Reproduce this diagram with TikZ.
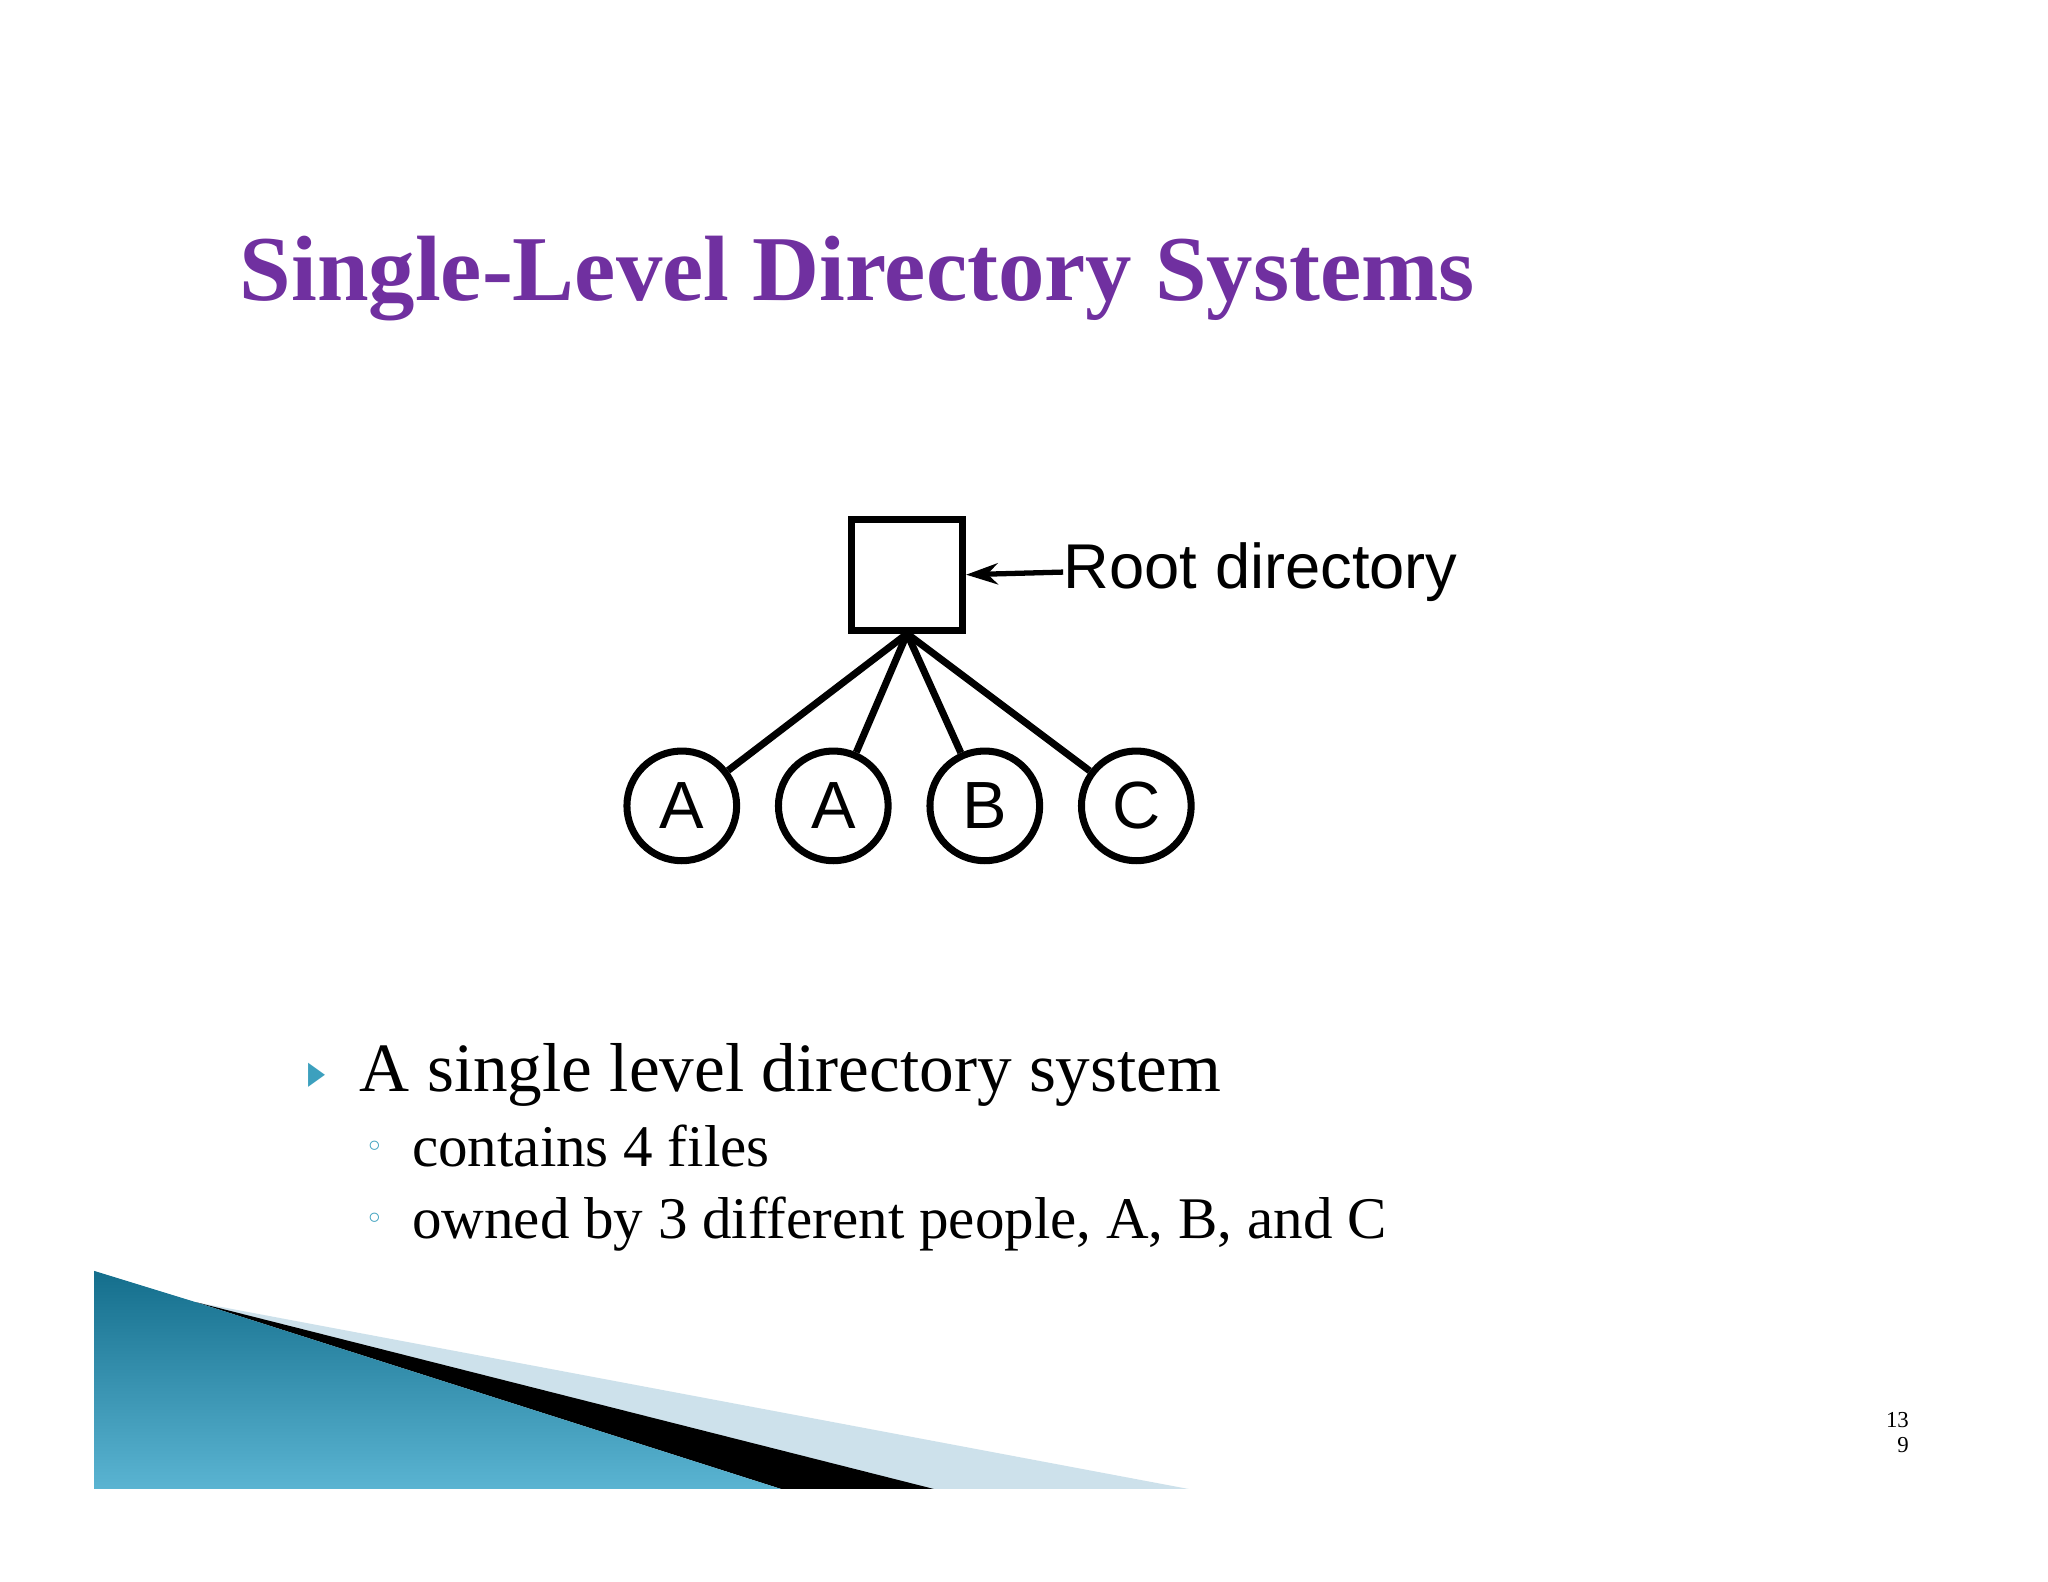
\documentclass[tikz,border=0pt]{standalone}
\usepackage{fontspec}
\setmainfont{Liberation Serif}
\newfontfamily\helv{Liberation Sans}
\newfontfamily\djv{DejaVu Sans}
\usetikzlibrary{arrows.meta}
\definecolor{ttl}{RGB}{112,48,160}
\definecolor{teal1}{RGB}{20,110,140}
\definecolor{teal2}{RGB}{90,180,210}
\definecolor{pale}{RGB}{205,225,235}
\definecolor{bul}{RGB}{60,160,190}
\begin{document}
\begin{tikzpicture}[x=0.01306cm,y=-0.01306cm,
  edge/.style={line width=2pt}]
\useasboundingbox (0,0) rectangle (1568,1211);
\fill[white] (0,0) rectangle (1568,1211);
% decoration
\fill[pale] (150,997) -- (910,1140) -- (700,1140) -- cycle;
\fill[black] (150,997) -- (715,1140) -- (598,1140) -- cycle;
\shade[left color=teal1,right color=teal2,shading angle=0] (72,973) -- (150,997) -- (598,1140) -- (72,1140) -- cycle;
% title
\node[anchor=base west,inner sep=0,text=ttl,font=\bfseries\fontsize{26.4}{28}\selectfont] (title) at (183,230) {Single-Level Directory Systems};
% tree
\node[draw,line width=2pt,minimum size=85*0.3716pt,inner sep=0] (root) at (694.5,440) {};
\node[anchor=west,inner sep=0,font=\helv\fontsize{18}{18}\selectfont] (lbl) at (814,438) {Root directory};
\draw[line width=1.5pt,-{Stealth[length=9pt,width=6pt]}] (lbl.west) -- (root.east);
\foreach \n/\x/\t in {a/522/A,b/638/A,c/754/B,d/870/C}
  \node[circle,draw,line width=2pt,minimum size=84*0.3716pt,inner sep=0,font=\helv\fontsize{19}{19}\selectfont] (\n) at (\x,617) {\t};
\foreach \n in {a,b,c,d} \draw[edge] (root.south) -- (\n);
% bullets
\node[text=bul,font=\djv\fontsize{9}{9}\selectfont,xscale=0.7] (t1) at (243,823) {▶};
\node[anchor=base west,inner sep=0,font=\fontsize{19.7}{20}\selectfont] (l1) at (275,836) {A single level directory system};
\node[text=bul,font=\djv\fontsize{9}{9}\selectfont] (c1) at (287,880) {◦};
\node[anchor=base west,inner sep=0,font=\fontsize{16.8}{17}\selectfont] (l2) at (315,893) {contains 4 files};
\node[text=bul,font=\djv\fontsize{9}{9}\selectfont] (c2) at (287,935) {◦};
\node[anchor=base west,inner sep=0,font=\fontsize{16.8}{17}\selectfont] (l3) at (315,948) {owned by 3 different people, A, B, and C};
\node[font=\fontsize{6.5}{7}\selectfont,align=right,anchor=east] (pg) at (1471,1097) {13\\9};
\end{tikzpicture}
\end{document}
